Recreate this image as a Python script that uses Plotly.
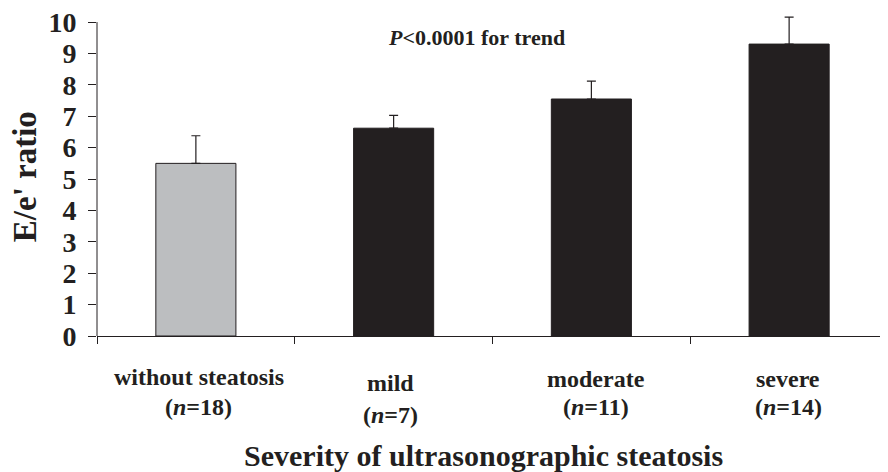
import plotly.graph_objects as go

categories = ["without steatosis", "mild", "moderate", "severe"]
n_values = [18, 7, 11, 14]
means = [5.5, 6.62, 7.55, 9.3]
errors_plus = [0.88, 0.41, 0.57, 0.86]
bar_colors = ["#bcbec0", "#231f20", "#231f20", "#231f20"]
y_ticks = list(range(0, 11))

FONT = "Liberation Serif, Times New Roman, serif"
INK = "#231f20"

x_pos = list(range(len(categories)))

fig = go.Figure()
fig.add_trace(go.Bar(
    x=x_pos, y=means, width=0.405,
    marker=dict(color=bar_colors, line=dict(color=INK, width=1)),
    error_y=dict(type="data", array=errors_plus, arrayminus=[0] * len(means),
                 symmetric=False, color=INK, thickness=1.2, width=4.5),
    cliponaxis=False, showlegend=False,
))

# category labels (two lines, slightly different offsets as in the original)
line1_shift = [-41, -47, -43, -43]
line2_shift = [-71, -79, -71, -71]
x_shift = [3, -3, 5, -1]
for i, (cat, n) in enumerate(zip(categories, n_values)):
    fig.add_annotation(x=i, y=0, xref="x", yref="y", text=f"<b>{cat}</b>", showarrow=False,
                       yanchor="middle", xanchor="center", yshift=line1_shift[i], xshift=x_shift[i],
                       font=dict(family=FONT, size=24, color=INK))
    fig.add_annotation(x=i, y=0, xref="x", yref="y", text=f"<b>(<i>n</i>={n})</b>", showarrow=False,
                       yanchor="middle", xanchor="center", yshift=line2_shift[i], xshift=x_shift[i],
                       font=dict(family=FONT, size=24, color=INK))

# x-axis title
fig.add_annotation(x=0.488, y=0, xref="paper", yref="y", yshift=-119,
                   text="<b>Severity of ultrasonographic steatosis</b>", showarrow=False,
                   xanchor="center", yanchor="middle",
                   font=dict(family=FONT, size=30, color=INK))

# y-axis title
fig.add_annotation(x=-0.091, y=5.06, xref="paper", yref="y", textangle=-90,
                   text="<b>E/e' ratio</b>", showarrow=False, xanchor="center", yanchor="middle",
                   font=dict(family=FONT, size=33, color=INK))

# trend p-value
fig.add_annotation(x=0.48, y=9.52, xref="paper", yref="y",
                   text="<b><i>P</i>&lt;0.0001 for trend</b>", showarrow=False,
                   xanchor="center", yanchor="middle",
                   font=dict(family=FONT, size=22, color=INK))

# y-axis line drawn only from 0 to 10 (the range is a little taller so the top error bar shows)
fig.add_shape(type="line", xref="paper", yref="y", x0=0, x1=0, y0=0, y1=10,
              line=dict(color=INK, width=1))

# the page body adds an 8px offset, so the figure is 8px smaller in each direction
fig.update_layout(
    width=880, height=464,
    margin=dict(l=89, r=0, t=5, b=136, autoexpand=False),
    paper_bgcolor="white", plot_bgcolor="white",
    xaxis=dict(range=[-0.5, 3.5], tickvals=[-0.5, 0.5, 1.5, 2.5], ticktext=["", "", "", ""],
               ticks="outside", ticklen=7, tickcolor=INK, tickwidth=1,
               showline=True, linecolor=INK, linewidth=1, showgrid=False, zeroline=False,
               automargin=False),
    yaxis=dict(range=[0, 10.29], tickvals=y_ticks, ticktext=[f"<b>{t}</b>" for t in y_ticks],
               ticks="outside", ticklen=8, tickcolor=INK,
               tickwidth=1, showline=False, showgrid=False,
               zeroline=False, ticklabelstandoff=6, automargin=False,
               ticklabeloverflow="allow",
               tickfont=dict(family=FONT, size=28, color=INK)),
)

fig.write_html("out.html")
